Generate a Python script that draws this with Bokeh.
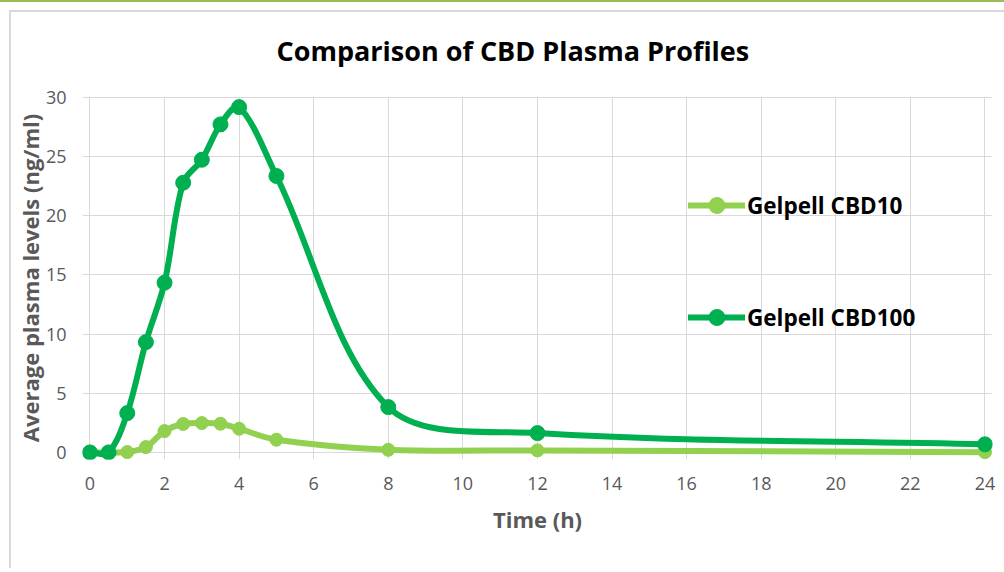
import numpy as np
from bokeh.plotting import figure
from bokeh.models import Range1d, FixedTicker, Legend, LegendItem, ColumnDataSource
from bokeh.embed import file_html
from bokeh.resources import INLINE

# ---- data ----
time_h = [0, 0.5, 1, 1.5, 2, 2.5, 3, 3.5, 4, 5, 8, 12, 24]
cbd10 = [0, 0, 0.03, 0.45, 1.8, 2.4, 2.48, 2.42, 2.0, 1.07, 0.22, 0.17, 0.02]
cbd100 = [0, 0, 3.32, 9.32, 14.34, 22.79, 24.73, 27.72, 29.18, 23.36, 3.83, 1.63, 0.68]
series_names = ["Gelpell CBD10", "Gelpell CBD100"]
series_colors = ["#92D050", "#00B050"]
x_ticks = list(range(0, 25, 2))
y_ticks = list(range(0, 31, 5))
title_text = "Comparison of CBD Plasma Profiles"

FONT = "Open Sans"

ppx = 895 / 24.0   # pixels per hour
ppy = 355 / 30.0   # pixels per ng/ml


def smooth_source(xs, ys):
    """Cubic Bezier segments through the points (spreadsheet-like smoothing,
    tangents split in proportion to neighbouring segment lengths)."""
    x = np.asarray(xs, float)
    y = np.asarray(ys, float)
    n = len(x)
    seg = np.hypot(np.diff(x) * ppx, np.diff(y) * ppy)
    tx = np.zeros(n)
    ty = np.zeros(n)
    for k in range(n):
        a = max(k - 1, 0)
        b = min(k + 1, n - 1)
        tx[k] = x[b] - x[a]
        ty[k] = y[b] - y[a]
    cx0, cy0, cx1, cy1 = [], [], [], []
    for i in range(n - 1):
        dprev = seg[i - 1] if i > 0 else 0.0
        dnext = seg[i + 1] if i + 1 < n - 1 else 0.0
        d = seg[i]
        f0 = d / (dprev + d) / 3.0 if (dprev + d) > 0 else 0.0
        f1 = d / (d + dnext) / 3.0 if (d + dnext) > 0 else 0.0
        cx0.append(x[i] + tx[i] * f0)
        cy0.append(y[i] + ty[i] * f0)
        cx1.append(x[i + 1] - tx[i + 1] * f1)
        cy1.append(y[i + 1] - ty[i + 1] * f1)
    return ColumnDataSource(dict(x0=x[:-1], y0=y[:-1], x1=x[1:], y1=y[1:],
                                 cx0=cx0, cy0=cy0, cx1=cx1, cy1=cy1))


x_pad = 0.2
y_pad_lo, y_pad_hi = 0.6, 0.1
frame_w = int(round((24 + 2 * x_pad) * ppx))
frame_h = int(round((30 + y_pad_lo + y_pad_hi) * ppy))

p = figure(
    frame_width=frame_w, frame_height=frame_h,
    min_border_left=82, min_border_right=12, min_border_top=96, min_border_bottom=109,
    x_range=Range1d(-x_pad, -x_pad + frame_w / ppx),
    y_range=Range1d(-y_pad_lo, -y_pad_lo + frame_h / ppy),
    output_backend="svg", toolbar_location=None,
    title=title_text,
)
# chart-area decoration: green band on top, light grey chart border
p.styles = {
    "background": (
        "linear-gradient(#9BBB59, #9BBB59) 0px 0px / 100% 2px no-repeat, "
        "linear-gradient(#D9D9D9, #D9D9D9) 9px 10px / 100% 2px no-repeat, "
        "linear-gradient(#D9D9D9, #D9D9D9) 9px 10px / 2px 100% no-repeat, "
        "#FFFFFF"
    ),
}
p.outline_line_color = None
p.background_fill_color = "white"
p.border_fill_color = None

p.title.text_font = FONT
p.title.text_font_size = "27px"
p.title.text_font_style = "bold"
p.title.text_color = "#000000"
p.title.align = "left"
p.title.offset = 194
p.title.standoff = 56

for ax in (p.xaxis[0], p.yaxis[0]):
    ax.axis_line_color = None
    ax.major_tick_line_color = None
    ax.minor_tick_line_color = None
    ax.major_tick_out = 0
    ax.major_tick_in = 0
    ax.minor_tick_out = 0
    ax.major_label_text_font = FONT
    ax.major_label_text_font_size = "18px"
    ax.major_label_text_color = "#595959"
    ax.axis_label_text_font = FONT
    ax.axis_label_text_font_size = "22px"
    ax.axis_label_text_font_style = "bold"
    ax.axis_label_text_color = "#595959"

p.xaxis.ticker = FixedTicker(ticks=x_ticks)
p.yaxis.ticker = FixedTicker(ticks=y_ticks)
p.xaxis.axis_label = "Time (h)"
p.yaxis.axis_label = "Average plasma levels (ng/ml)"
p.xaxis.major_label_standoff = 17
p.xaxis.axis_label_standoff = 11
p.yaxis.major_label_standoff = 16
p.yaxis.axis_label_standoff = -2

p.xgrid.ticker = FixedTicker(ticks=x_ticks)
p.ygrid.ticker = FixedTicker(ticks=y_ticks)
p.grid.grid_line_color = "#D9D9D9"
p.grid.grid_line_width = 1

items = []
for name, vals, color, msize in zip(series_names, [cbd10, cbd100], series_colors, [13, 15]):
    src = smooth_source(time_h, vals)
    br = p.bezier(x0="x0", y0="y0", x1="x1", y1="y1", cx0="cx0", cy0="cy0",
                  cx1="cx1", cy1="cy1", source=src, line_color=color,
                  line_width=6, line_cap="round")
    sr = p.scatter(time_h, vals, size=msize, fill_color=color, line_color=color)
    items.append(LegendItem(label=name, renderers=[br, sr]))

legend = Legend(items=items, location=(606, 122))
legend.glyph_width = 57
legend.glyph_height = 40
legend.label_height = 40
legend.label_standoff = 2
legend.spacing = 72
legend.padding = 0
legend.margin = 0
legend.border_line_color = None
legend.background_fill_alpha = 0
legend.label_text_font = FONT
legend.label_text_font_size = "22.5px"
legend.label_text_font_style = "bold"
legend.label_text_color = "#000000"
p.add_layout(legend, "center")

open("out.html", "w").write(file_html(p, INLINE))
